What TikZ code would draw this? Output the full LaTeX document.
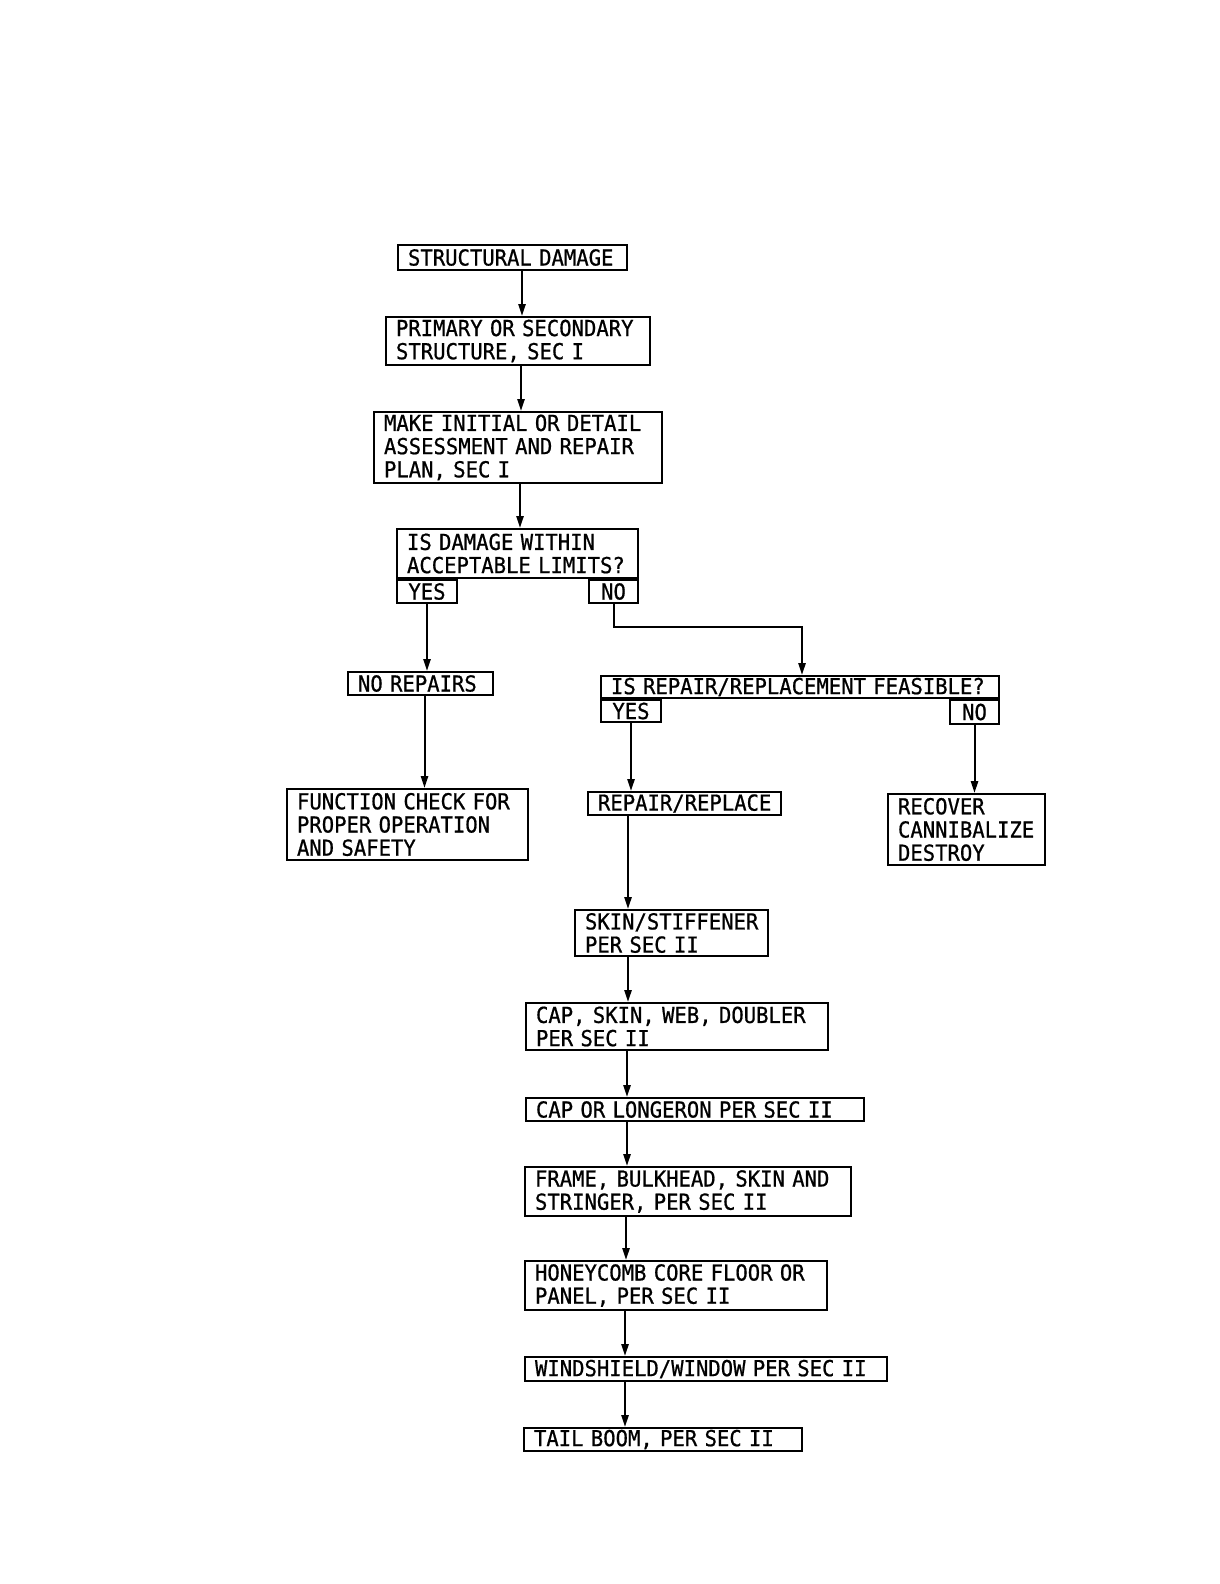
\documentclass[tikz,border=0pt]{standalone}
\usepackage{fontspec}
\usetikzlibrary{arrows.meta}
\newfontfamily\flowmono[FakeStretch=0.935,FakeBold=0.8]{DejaVu Sans Mono}
\newcommand\lnx[1]{\mbox{#1}}
\begin{document}
\begin{tikzpicture}[x=0.5pt,y=-0.5pt,
  box/.style={draw, line width=1pt, anchor=north west, inner xsep=5pt, inner ysep=0.5pt,
    align=left, font={\flowmono\fontsize{11}{11.6}\selectfont}},
  tagbox/.style={draw, line width=1pt, inner sep=0pt, align=center,
    font={\flowmono\fontsize{11}{11.6}\selectfont}},
  arr/.style={line width=1pt, -{Triangle[length=6pt,width=3.6pt]}}]
\useasboundingbox (0,0) rectangle (1220,1584);

% main column
\node[box, minimum width=114.5pt, minimum height=12.5pt, text width=104.5pt] (sd) at (397,244) {\lnx{STRUCTURAL DAMAGE}};
\node[box, minimum width=132pt, minimum height=24pt, text width=122pt] (prim) at (385,316) {\lnx{PRIMARY OR SECONDARY}\\\lnx{STRUCTURE, SEC I}};
\node[box, minimum width=144pt, minimum height=35.5pt, text width=134pt] (make) at (373,411) {\lnx{MAKE INITIAL OR DETAIL}\\\lnx{ASSESSMENT AND REPAIR}\\\lnx{PLAN, SEC I}};

% decision 1
\node[box, minimum width=120.5pt, minimum height=24.5pt, text width=110.5pt] (dec1) at (396,528) {\lnx{IS DAMAGE WITHIN}\\\lnx{ACCEPTABLE LIMITS?}};
\node[tagbox, anchor=north west, minimum width=30pt, minimum height=11.5pt] (yes1) at (dec1.south west) {YES};
\node[tagbox, anchor=north east, minimum width=24.5pt, minimum height=11.5pt] (no1) at (dec1.south east) {NO};

\node[box, minimum width=72.5pt, minimum height=11.5pt, text width=62.5pt] (norep) at (347,671) {\lnx{NO REPAIRS}};
\node[box, minimum width=120.5pt, minimum height=35.5pt, text width=110.5pt] (func) at (286,788) {\lnx{FUNCTION CHECK FOR}\\\lnx{PROPER OPERATION}\\\lnx{AND SAFETY}};

% decision 2
\node[box, minimum width=199pt, minimum height=11pt, text width=189pt] (dec2) at (600,675) {\lnx{IS REPAIR/REPLACEMENT FEASIBLE?}};
\node[tagbox, anchor=north west, minimum width=30pt, minimum height=11pt] (yes2) at (dec2.south west) {YES};
\node[tagbox, anchor=north east, minimum width=24.5pt, minimum height=12pt] (no2) at (dec2.south east) {NO};

\node[box, minimum width=96.5pt, minimum height=11.5pt, text width=86.5pt] (reprep) at (587,791) {\lnx{REPAIR/REPLACE}};
\node[box, minimum width=78.5pt, minimum height=35.5pt, text width=68.5pt] (recov) at (887,793) {\lnx{RECOVER}\\\lnx{CANNIBALIZE}\\\lnx{DESTROY}};

% repair chain
\node[box, minimum width=96.5pt, minimum height=23pt, text width=86.5pt] (skin) at (574,909) {\lnx{SKIN/STIFFENER}\\\lnx{PER SEC II}};
\node[box, minimum width=151pt, minimum height=23.5pt, text width=141pt] (capskin) at (525,1002) {\lnx{CAP, SKIN, WEB, DOUBLER}\\\lnx{PER SEC II}};
\node[box, minimum width=169pt, minimum height=11.5pt, text width=159pt] (caplong) at (525,1097) {\lnx{CAP OR LONGERON PER SEC II}};
\node[box, minimum width=163pt, minimum height=24.5pt, text width=153pt] (frame) at (524,1166) {\lnx{FRAME, BULKHEAD, SKIN AND}\\\lnx{STRINGER, PER SEC II}};
\node[box, minimum width=151pt, minimum height=24.5pt, text width=141pt] (honey) at (524,1260) {\lnx{HONEYCOMB CORE FLOOR OR}\\\lnx{PANEL, PER SEC II}};
\node[box, minimum width=181pt, minimum height=12pt, text width=171pt] (wind) at (524,1356) {\lnx{WINDSHIELD/WINDOW PER SEC II}};
\node[box, minimum width=139pt, minimum height=11.5pt, text width=129pt] (tail) at (523,1427) {\lnx{TAIL BOOM, PER SEC II}};

% connectors
\draw[arr] ([xshift=4.75pt]sd.south) -- ([xshift=4.75pt]sd.south |- prim.north);
\draw[arr] ([xshift=1.5pt]prim.south) -- ([xshift=1.5pt]prim.south |- make.north);
\draw[arr] ([xshift=1pt]make.south) -- ([xshift=1pt]make.south |- dec1.north);
\draw[arr] (yes1.south) -- (yes1.south |- norep.north);
\draw[arr] ([xshift=2pt]norep.south) -- ([xshift=2pt]norep.south |- func.north);
\draw[arr] (no1.south) -- ++(0,23) -| ([xshift=1pt]dec2.north);
\draw[arr] (yes2.south) -- (yes2.south |- reprep.north);
\draw[arr] (no2.south) -- (no2.south |- recov.north);
\draw[arr] ([xshift=20.5pt]reprep.south west) -- ([xshift=20.5pt]reprep.south west |- skin.north);
\draw[arr] ([xshift=27pt]skin.south west) -- ([xshift=27pt]skin.south west |- capskin.north);
\draw[arr] ([xshift=51pt]capskin.south west) -- ([xshift=51pt]capskin.south west |- caplong.north);
\draw[arr] ([xshift=51pt]caplong.south west) -- ([xshift=51pt]caplong.south west |- frame.north);
\draw[arr] ([xshift=51pt]frame.south west) -- ([xshift=51pt]frame.south west |- honey.north);
\draw[arr] ([xshift=50.5pt]honey.south west) -- ([xshift=50.5pt]honey.south west |- wind.north);
\draw[arr] ([xshift=50.5pt]wind.south west) -- ([xshift=50.5pt]wind.south west |- tail.north);
\end{tikzpicture}
\end{document}
